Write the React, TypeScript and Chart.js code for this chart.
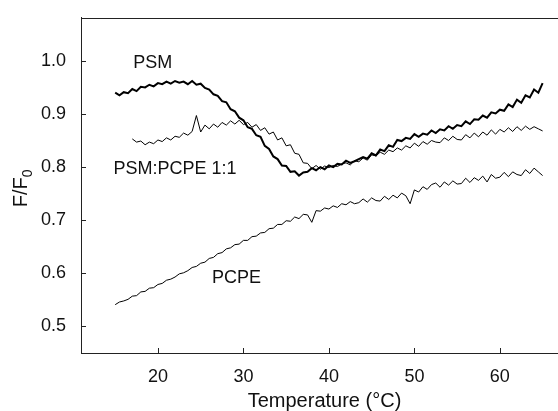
import { useEffect, useRef } from 'react';
import { Chart, registerables } from 'chart.js';

Chart.register(...registerables);

const tempsPSM = [15, 15.5, 16, 16.5, 17, 17.5, 18, 18.5, 19, 19.5, 20, 20.5, 21, 21.5, 22, 22.5, 23, 23.5, 24, 24.5, 25, 25.5, 26, 26.5, 27, 27.5, 28, 28.5, 29, 29.5, 30, 30.5, 31, 31.5, 32, 32.5, 33, 33.5, 34, 34.5, 35, 35.5, 36, 36.5, 37, 37.5, 38, 38.5, 39, 39.5, 40, 40.5, 41, 41.5, 42, 42.5, 43, 43.5, 44, 44.5, 45, 45.5, 46, 46.5, 47, 47.5, 48, 48.5, 49, 49.5, 50, 50.5, 51, 51.5, 52, 52.5, 53, 53.5, 54, 54.5, 55, 55.5, 56, 56.5, 57, 57.5, 58, 58.5, 59, 59.5, 60, 60.5, 61, 61.5, 62, 62.5, 63, 63.5, 64, 64.5, 65];
const psm = [0.940, 0.935, 0.941, 0.939, 0.947, 0.943, 0.951, 0.950, 0.955, 0.952, 0.958, 0.956, 0.961, 0.957, 0.962, 0.959, 0.961, 0.956, 0.962, 0.955, 0.957, 0.949, 0.946, 0.937, 0.934, 0.924, 0.922, 0.909, 0.905, 0.893, 0.888, 0.875, 0.872, 0.860, 0.857, 0.840, 0.834, 0.820, 0.815, 0.803, 0.802, 0.791, 0.792, 0.784, 0.790, 0.791, 0.798, 0.794, 0.800, 0.796, 0.803, 0.800, 0.806, 0.805, 0.812, 0.808, 0.811, 0.815, 0.819, 0.816, 0.826, 0.822, 0.833, 0.830, 0.841, 0.838, 0.851, 0.849, 0.855, 0.853, 0.862, 0.857, 0.863, 0.861, 0.869, 0.864, 0.871, 0.869, 0.877, 0.872, 0.879, 0.877, 0.886, 0.881, 0.890, 0.889, 0.897, 0.893, 0.903, 0.901, 0.908, 0.906, 0.918, 0.913, 0.927, 0.921, 0.935, 0.931, 0.946, 0.940, 0.958];

const tempsMix = [17, 17.5, 18, 18.5, 19, 19.5, 20, 20.5, 21, 21.5, 22, 22.5, 23, 23.5, 24, 24.5, 25, 25.5, 26, 26.5, 27, 27.5, 28, 28.5, 29, 29.5, 30, 30.5, 31, 31.5, 32, 32.5, 33, 33.5, 34, 34.5, 35, 35.5, 36, 36.5, 37, 37.5, 38, 38.5, 39, 39.5, 40, 40.5, 41, 41.5, 42, 42.5, 43, 43.5, 44, 44.5, 45, 45.5, 46, 46.5, 47, 47.5, 48, 48.5, 49, 49.5, 50, 50.5, 51, 51.5, 52, 52.5, 53, 53.5, 54, 54.5, 55, 55.5, 56, 56.5, 57, 57.5, 58, 58.5, 59, 59.5, 60, 60.5, 61, 61.5, 62, 62.5, 63, 63.5, 64, 64.5, 65];
const mix = [0.853, 0.847, 0.849, 0.842, 0.847, 0.844, 0.851, 0.848, 0.855, 0.851, 0.858, 0.856, 0.864, 0.860, 0.867, 0.897, 0.866, 0.879, 0.872, 0.881, 0.875, 0.884, 0.879, 0.887, 0.881, 0.888, 0.880, 0.884, 0.875, 0.880, 0.869, 0.874, 0.862, 0.866, 0.851, 0.855, 0.840, 0.842, 0.826, 0.824, 0.808, 0.807, 0.797, 0.803, 0.796, 0.802, 0.799, 0.803, 0.801, 0.806, 0.808, 0.804, 0.812, 0.810, 0.817, 0.813, 0.823, 0.821, 0.828, 0.824, 0.832, 0.829, 0.836, 0.832, 0.840, 0.836, 0.845, 0.839, 0.848, 0.843, 0.850, 0.847, 0.846, 0.855, 0.850, 0.858, 0.852, 0.851, 0.861, 0.855, 0.864, 0.857, 0.866, 0.860, 0.870, 0.862, 0.871, 0.866, 0.874, 0.867, 0.876, 0.869, 0.877, 0.871, 0.876, 0.872, 0.868];

const tempsPCPE = [15, 15.5, 16, 16.5, 17, 17.5, 18, 18.5, 19, 19.5, 20, 20.5, 21, 21.5, 22, 22.5, 23, 23.5, 24, 24.5, 25, 25.5, 26, 26.5, 27, 27.5, 28, 28.5, 29, 29.5, 30, 30.5, 31, 31.5, 32, 32.5, 33, 33.5, 34, 34.5, 35, 35.5, 36, 36.5, 37, 37.5, 38, 38.5, 39, 39.5, 40, 40.5, 41, 41.5, 42, 42.5, 43, 43.5, 44, 44.5, 45, 45.5, 46, 46.5, 47, 47.5, 48, 48.5, 49, 49.5, 50, 50.5, 51, 51.5, 52, 52.5, 53, 53.5, 54, 54.5, 55, 55.5, 56, 56.5, 57, 57.5, 58, 58.5, 59, 59.5, 60, 60.5, 61, 61.5, 62, 62.5, 63, 63.5, 64, 64.5, 65];
const pcpe = [0.541, 0.546, 0.548, 0.551, 0.557, 0.558, 0.565, 0.566, 0.572, 0.573, 0.579, 0.581, 0.587, 0.589, 0.593, 0.599, 0.601, 0.605, 0.611, 0.613, 0.619, 0.621, 0.628, 0.630, 0.637, 0.639, 0.646, 0.648, 0.654, 0.655, 0.662, 0.662, 0.669, 0.670, 0.676, 0.677, 0.684, 0.685, 0.692, 0.692, 0.699, 0.698, 0.706, 0.703, 0.711, 0.710, 0.696, 0.718, 0.717, 0.723, 0.721, 0.727, 0.724, 0.731, 0.729, 0.735, 0.731, 0.733, 0.740, 0.734, 0.742, 0.737, 0.736, 0.745, 0.739, 0.747, 0.742, 0.751, 0.746, 0.731, 0.757, 0.753, 0.763, 0.758, 0.767, 0.770, 0.762, 0.772, 0.766, 0.774, 0.768, 0.769, 0.779, 0.771, 0.780, 0.775, 0.783, 0.772, 0.786, 0.779, 0.781, 0.790, 0.782, 0.791, 0.786, 0.784, 0.795, 0.788, 0.798, 0.791, 0.784];

const xTicks = [20, 30, 40, 50, 60];
const yTicks = [0.5, 0.6, 0.7, 0.8, 0.9, 1.0];

const labelTexts = ['PSM', 'PSM:PCPE 1:1', 'PCPE'];
const labelX = [19.4, 22.0, 29.2];
const labelY = [0.995, 0.796, 0.591];

const FONT = '"Liberation Sans", Arial, Helvetica, sans-serif';
const INK = '#111';
const AXIS = '#222';

const decor = {
  id: 'decor',
  afterDraw(chart: any) {
    const { ctx, chartArea } = chart;
    const xs = chart.scales.x;
    const ys = chart.scales.y;
    ctx.save();
    ctx.strokeStyle = AXIS;
    ctx.lineWidth = 1;
    ctx.beginPath();
    ctx.moveTo(chartArea.left, Math.round(chartArea.top) + 0.5);
    ctx.lineTo(chartArea.right, Math.round(chartArea.top) + 0.5);
    xTicks.forEach((v) => {
      const px = Math.round(xs.getPixelForValue(v)) + 0.5;
      ctx.moveTo(px, chartArea.bottom);
      ctx.lineTo(px, chartArea.bottom - 5);
    });
    yTicks.forEach((v) => {
      const py = Math.round(ys.getPixelForValue(v)) + 0.5;
      ctx.moveTo(chartArea.left, py);
      ctx.lineTo(chartArea.left + 5, py);
    });
    ctx.stroke();

    ctx.fillStyle = INK;
    ctx.font = `18px ${FONT}`;
    ctx.textAlign = 'center';
    ctx.textBaseline = 'middle';
    labelTexts.forEach((t, i) => {
      ctx.fillText(t, xs.getPixelForValue(labelX[i]), ys.getPixelForValue(labelY[i]));
    });

    // x axis title
    ctx.font = `20px ${FONT}`;
    ctx.textBaseline = 'alphabetic';
    ctx.fillText('Temperature (°C)', (chartArea.left + chartArea.right) / 2 + 5, chart.height - 4);

    // y axis title with subscript
    const cy = (chartArea.top + chartArea.bottom) / 2 + 3;
    ctx.translate(27, cy);
    ctx.rotate(-Math.PI / 2);
    ctx.font = `20px ${FONT}`;
    const main = 'F/F';
    const w1 = ctx.measureText(main).width;
    ctx.font = `14px ${FONT}`;
    const w2 = ctx.measureText('0').width;
    const start = -(w1 + w2) / 2;
    ctx.textAlign = 'left';
    ctx.font = `20px ${FONT}`;
    ctx.fillText(main, start, 0);
    ctx.font = `14px ${FONT}`;
    ctx.fillText('0', start + w1, 5);
    ctx.restore();
  },
};

export default function App() {
  const ref = useRef<HTMLCanvasElement>(null);
  useEffect(() => {
    if (!ref.current) return;
    const toPts = (xs: number[], ys: number[]) => xs.map((x, i) => ({ x, y: ys[i] }));
    const chart = new Chart(ref.current, {
      type: 'line',
      data: {
        datasets: [
          { label: 'PCPE', data: toPts(tempsPCPE, pcpe), borderColor: '#000', borderWidth: 1, pointRadius: 0, tension: 0 },
          { label: 'PSM:PCPE 1:1', data: toPts(tempsMix, mix), borderColor: '#000', borderWidth: 1, pointRadius: 0, tension: 0 },
          { label: 'PSM', data: toPts(tempsPSM, psm), borderColor: '#000', borderWidth: 2, pointRadius: 0, tension: 0 },
        ],
      },
      options: {
        responsive: false,
        animation: false,
        devicePixelRatio: 1,
        layout: { padding: { top: 10, right: 0, left: 0, bottom: 0 } },
        plugins: { legend: { display: false }, tooltip: { enabled: false } },
        scales: {
          x: {
            type: 'linear',
            min: 11,
            max: 66.8,
            grid: { display: false },
            border: { display: true, color: AXIS, width: 1 },
            afterBuildTicks: (s: any) => { s.ticks = xTicks.map((v) => ({ value: v })); },
            afterFit: (s: any) => { s.height = 58; },
            ticks: { color: INK, font: { family: FONT, size: 18 }, padding: 5, maxRotation: 0 },
          },
          y: {
            type: 'linear',
            min: 0.45,
            max: 1.081,
            grid: { display: false },
            border: { display: true, color: AXIS, width: 1 },
            afterBuildTicks: (s: any) => { s.ticks = yTicks.map((v) => ({ value: v })); },
            afterFit: (s: any) => { s.width = 81; },
            ticks: { color: INK, font: { family: FONT, size: 18 }, padding: 7, callback: (v: any) => Number(v).toFixed(1) },
          },
        },
      },
      plugins: [decor],
    });
    return () => chart.destroy();
  }, []);
  return (
    <div style={{ position: 'absolute', left: 0, top: 0, width: 558, height: 411, background: '#fff' }}>
      <canvas ref={ref} width={558} height={411} />
    </div>
  );
}
